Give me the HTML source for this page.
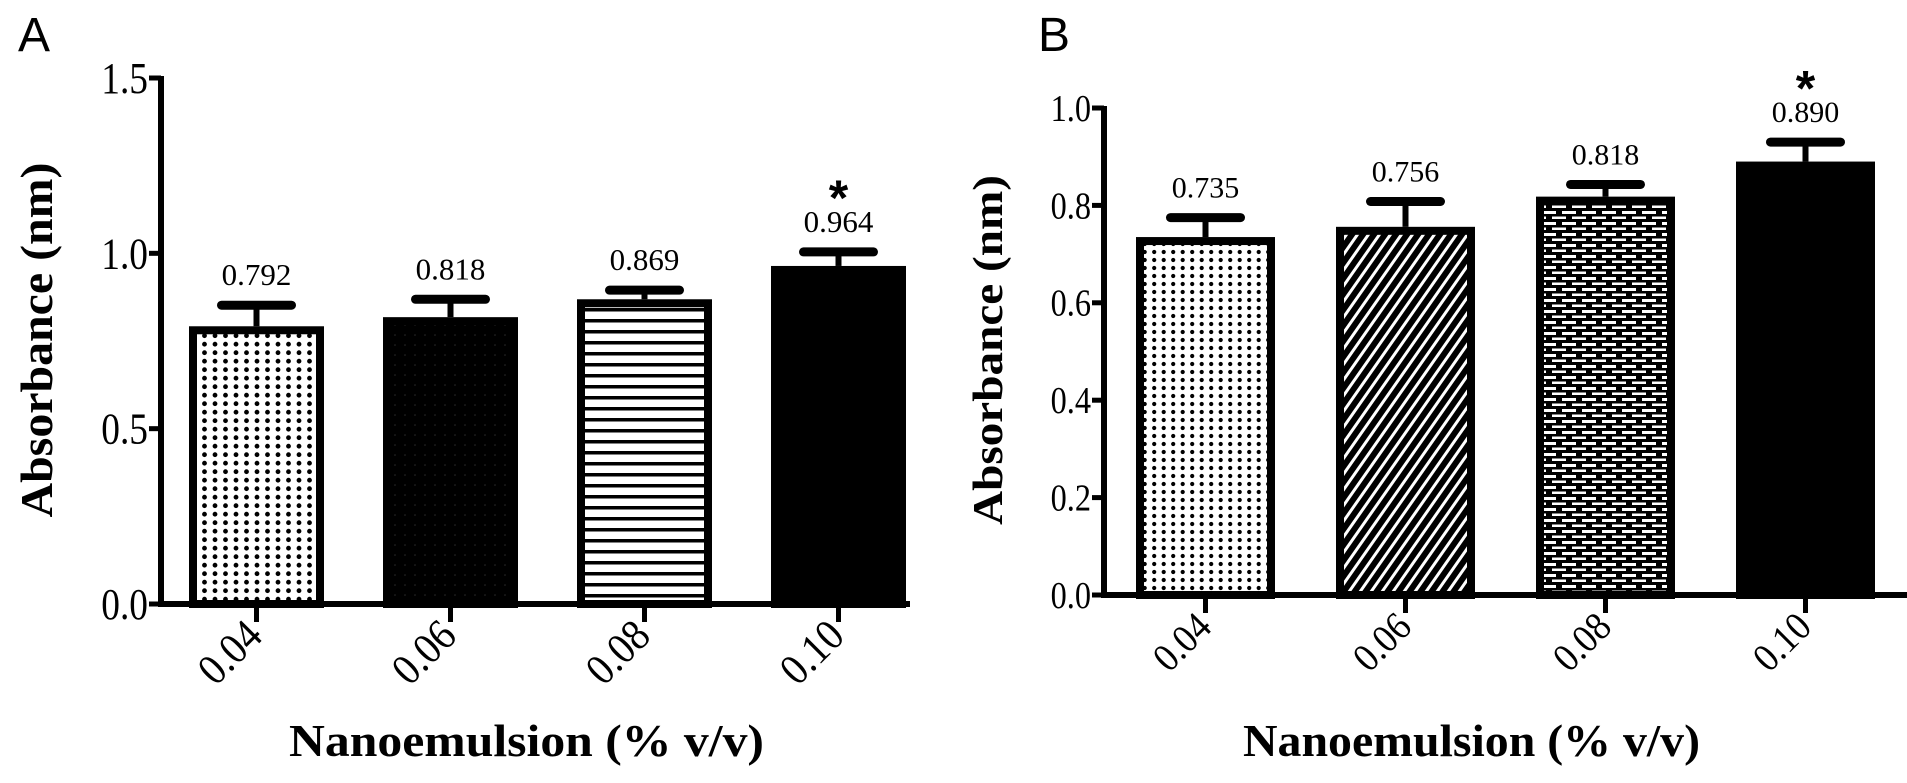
<!DOCTYPE html>
<html><head><meta charset="utf-8"><style>
html,body{margin:0;padding:0;background:#fff;}
svg{display:block;font-family:"Liberation Serif",serif;}
.panel{font-family:"Liberation Sans",sans-serif;font-size:48px;}
</style></head><body>
<svg id="chart" width="1907" height="783" viewBox="0 0 1907 783">
<defs>
<pattern id="dots" width="10.5" height="8.5" patternUnits="userSpaceOnUse"><rect width="10.5" height="8.5" fill="#fff"/><circle cx="5" cy="4.2" r="2.4" fill="#000"/></pattern>
<pattern id="dotsb" width="9.5" height="8" patternUnits="userSpaceOnUse"><rect width="9.5" height="8" fill="#fff"/><circle cx="4.7" cy="4" r="2.1" fill="#000"/></pattern>
<pattern id="dark" width="10" height="10" patternUnits="userSpaceOnUse"><rect width="10" height="10" fill="#000"/><circle cx="5" cy="5" r="0.8" fill="#2a2a2a"/></pattern>
<pattern id="hlines" width="10" height="11" patternUnits="userSpaceOnUse"><rect width="10" height="11" fill="#fff"/><rect y="0" width="10" height="3.5" fill="#000"/></pattern>
<pattern id="diag" width="9" height="9" patternUnits="userSpaceOnUse" patternTransform="rotate(35)"><rect width="9" height="9" fill="#000"/><rect x="3" width="3" height="9" fill="#fff"/></pattern>
<pattern id="brick" width="20" height="11" patternUnits="userSpaceOnUse"><rect width="20" height="11" fill="#000"/><rect x="2" y="2" width="14" height="3" fill="#fff"/><rect x="-8" y="7.5" width="14" height="2.5" fill="#fff"/><rect x="12" y="7.5" width="14" height="2.5" fill="#fff"/></pattern>
</defs>
<text class="panel" x="18" y="51">A</text>
<text class="panel" x="1038" y="51">B</text>
<g id="ga"></g><g id="gb"></g>
</svg>
<script>
const categories = ["0.04","0.06","0.08","0.10"];
const valuesA = [0.792,0.818,0.869,0.964];
const errorsA = [0.06,0.051,0.026,0.04];
const ticksA = [0.0,0.5,1.0,1.5];
const valuesB = [0.735,0.756,0.818,0.890];
const errorsB = [0.04,0.052,0.025,0.04];
const ticksB = [0.0,0.2,0.4,0.6,0.8,1.0];
const starsA = [false,false,false,true];
const starsB = [false,false,false,true];

const NS="http://www.w3.org/2000/svg";
function mk(parent,tag,attrs,text){const e=document.createElementNS(NS,tag);for(const k in attrs)e.setAttribute(k,attrs[k]);if(text!==undefined)e.textContent=text;parent.appendChild(e);return e;}

function draw(g,cfg,vals,errs,ticks,stars,fills,prefix){
  const y=v=>cfg.y0-(v-cfg.min)/(cfg.max-cfg.min)*(cfg.y0-cfg.yTop);
  const x=i=>cfg.x0+cfg.firstOff+i*cfg.step;
  let e;
  e=mk(g,'line',{x1:cfg.x0,y1:y(cfg.max)-2,x2:cfg.x0,y2:cfg.y0+3,stroke:'#000','stroke-width':6});
  
  
  e=mk(g,'line',{x1:cfg.x0-3,y1:cfg.y0,x2:cfg.xEnd,y2:cfg.y0,stroke:'#000','stroke-width':6});
  
  
  ticks.forEach(t=>{
    const yy=y(t);
    e=mk(g,'line',{x1:cfg.x0-12,y1:yy,x2:cfg.x0,y2:yy,stroke:'#000','stroke-width':5});
    
    
    e=mk(g,'text',{x:cfg.x0-13,y:yy+cfg.yfs*0.34,'text-anchor':'end','font-size':cfg.yfs,transform:`translate(${cfg.x0-13},0) scale(0.85,1) translate(${-(cfg.x0-13)},0)`},t.toFixed(1));
    
    
  });
  vals.forEach((v,i)=>{
    const cx=x(i)+cfg.bw/2, top=y(v);
    e=mk(g,'line',{x1:cx,y1:cfg.y0,x2:cx,y2:cfg.y0+18,stroke:'#000','stroke-width':5});
    
    
    e=mk(g,'line',{x1:cx,y1:top,x2:cx,y2:y(v+errs[i]),stroke:'#000','stroke-width':6});
    
    
    e=mk(g,'line',{x1:cx-cfg.cap,y1:y(v+errs[i]),x2:cx+cfg.cap,y2:y(v+errs[i]),stroke:'#000','stroke-width':9,'stroke-linecap':'round'});
    
    
    e=mk(g,'rect',{x:x(i)+4,y:top+4,width:cfg.bw-8,height:cfg.y0-top-4,fill:fills[i],stroke:'#000','stroke-width':8});
    
    
    const ly=y(v+errs[i])-20;
    e=mk(g,'text',{x:cx,y:ly,'text-anchor':'middle','font-size':cfg.vfs},v.toFixed(3));
    
    
    if(stars[i]){
      e=mk(g,'text',{x:cx,y:ly-cfg.vfs*0.55,'text-anchor':'middle','font-size':50,'font-weight':'bold','font-family':'Liberation Sans, sans-serif'},'*');
      
      
    }
    e=mk(g,'text',{x:0,y:0,'text-anchor':'end','font-size':cfg.xfs,transform:`translate(${cx+8},${cfg.y0+34}) rotate(-45) scale(0.9,1)`},categories[i]);
    
    
  });
  e=mk(g,'text',{x:cfg.tx,y:756,'font-size':46,'font-weight':'bold',textLength:cfg.tl,lengthAdjust:'spacingAndGlyphs'},'Nanoemulsion (% v/v)');
  
  
  e=mk(g,'text',{x:0,y:0,'text-anchor':'middle','font-size':cfg.ytfs,'font-weight':'bold',textLength:cfg.ytl,lengthAdjust:'spacingAndGlyphs',transform:`translate(${cfg.ytx},${cfg.yty}) rotate(-90)`},'Absorbance (nm)');
  
  
}
draw(document.getElementById('ga'),{x0:161,xEnd:910,y0:604,yTop:78,min:0,max:1.5,firstOff:28,step:194,bw:135,cap:35,yfs:44,vfs:31,xfs:44,tx:289,tl:475,ytx:52,yty:340,ytfs:46,ytl:355},valuesA,errorsA,ticksA,starsA,['url(#dots)','url(#dark)','url(#hlines)','#000'],'chart-a');
draw(document.getElementById('gb'),{x0:1104,xEnd:1907,y0:595,yTop:108,min:0,max:1.0,firstOff:32,step:200,bw:139,cap:35,yfs:38,vfs:30,xfs:40,tx:1243,tl:457,ytx:1002,yty:350,ytfs:42,ytl:350},valuesB,errorsB,ticksB,starsB,['url(#dotsb)','url(#diag)','url(#brick)','#000'],'chart-b');
</script>
</body></html>
